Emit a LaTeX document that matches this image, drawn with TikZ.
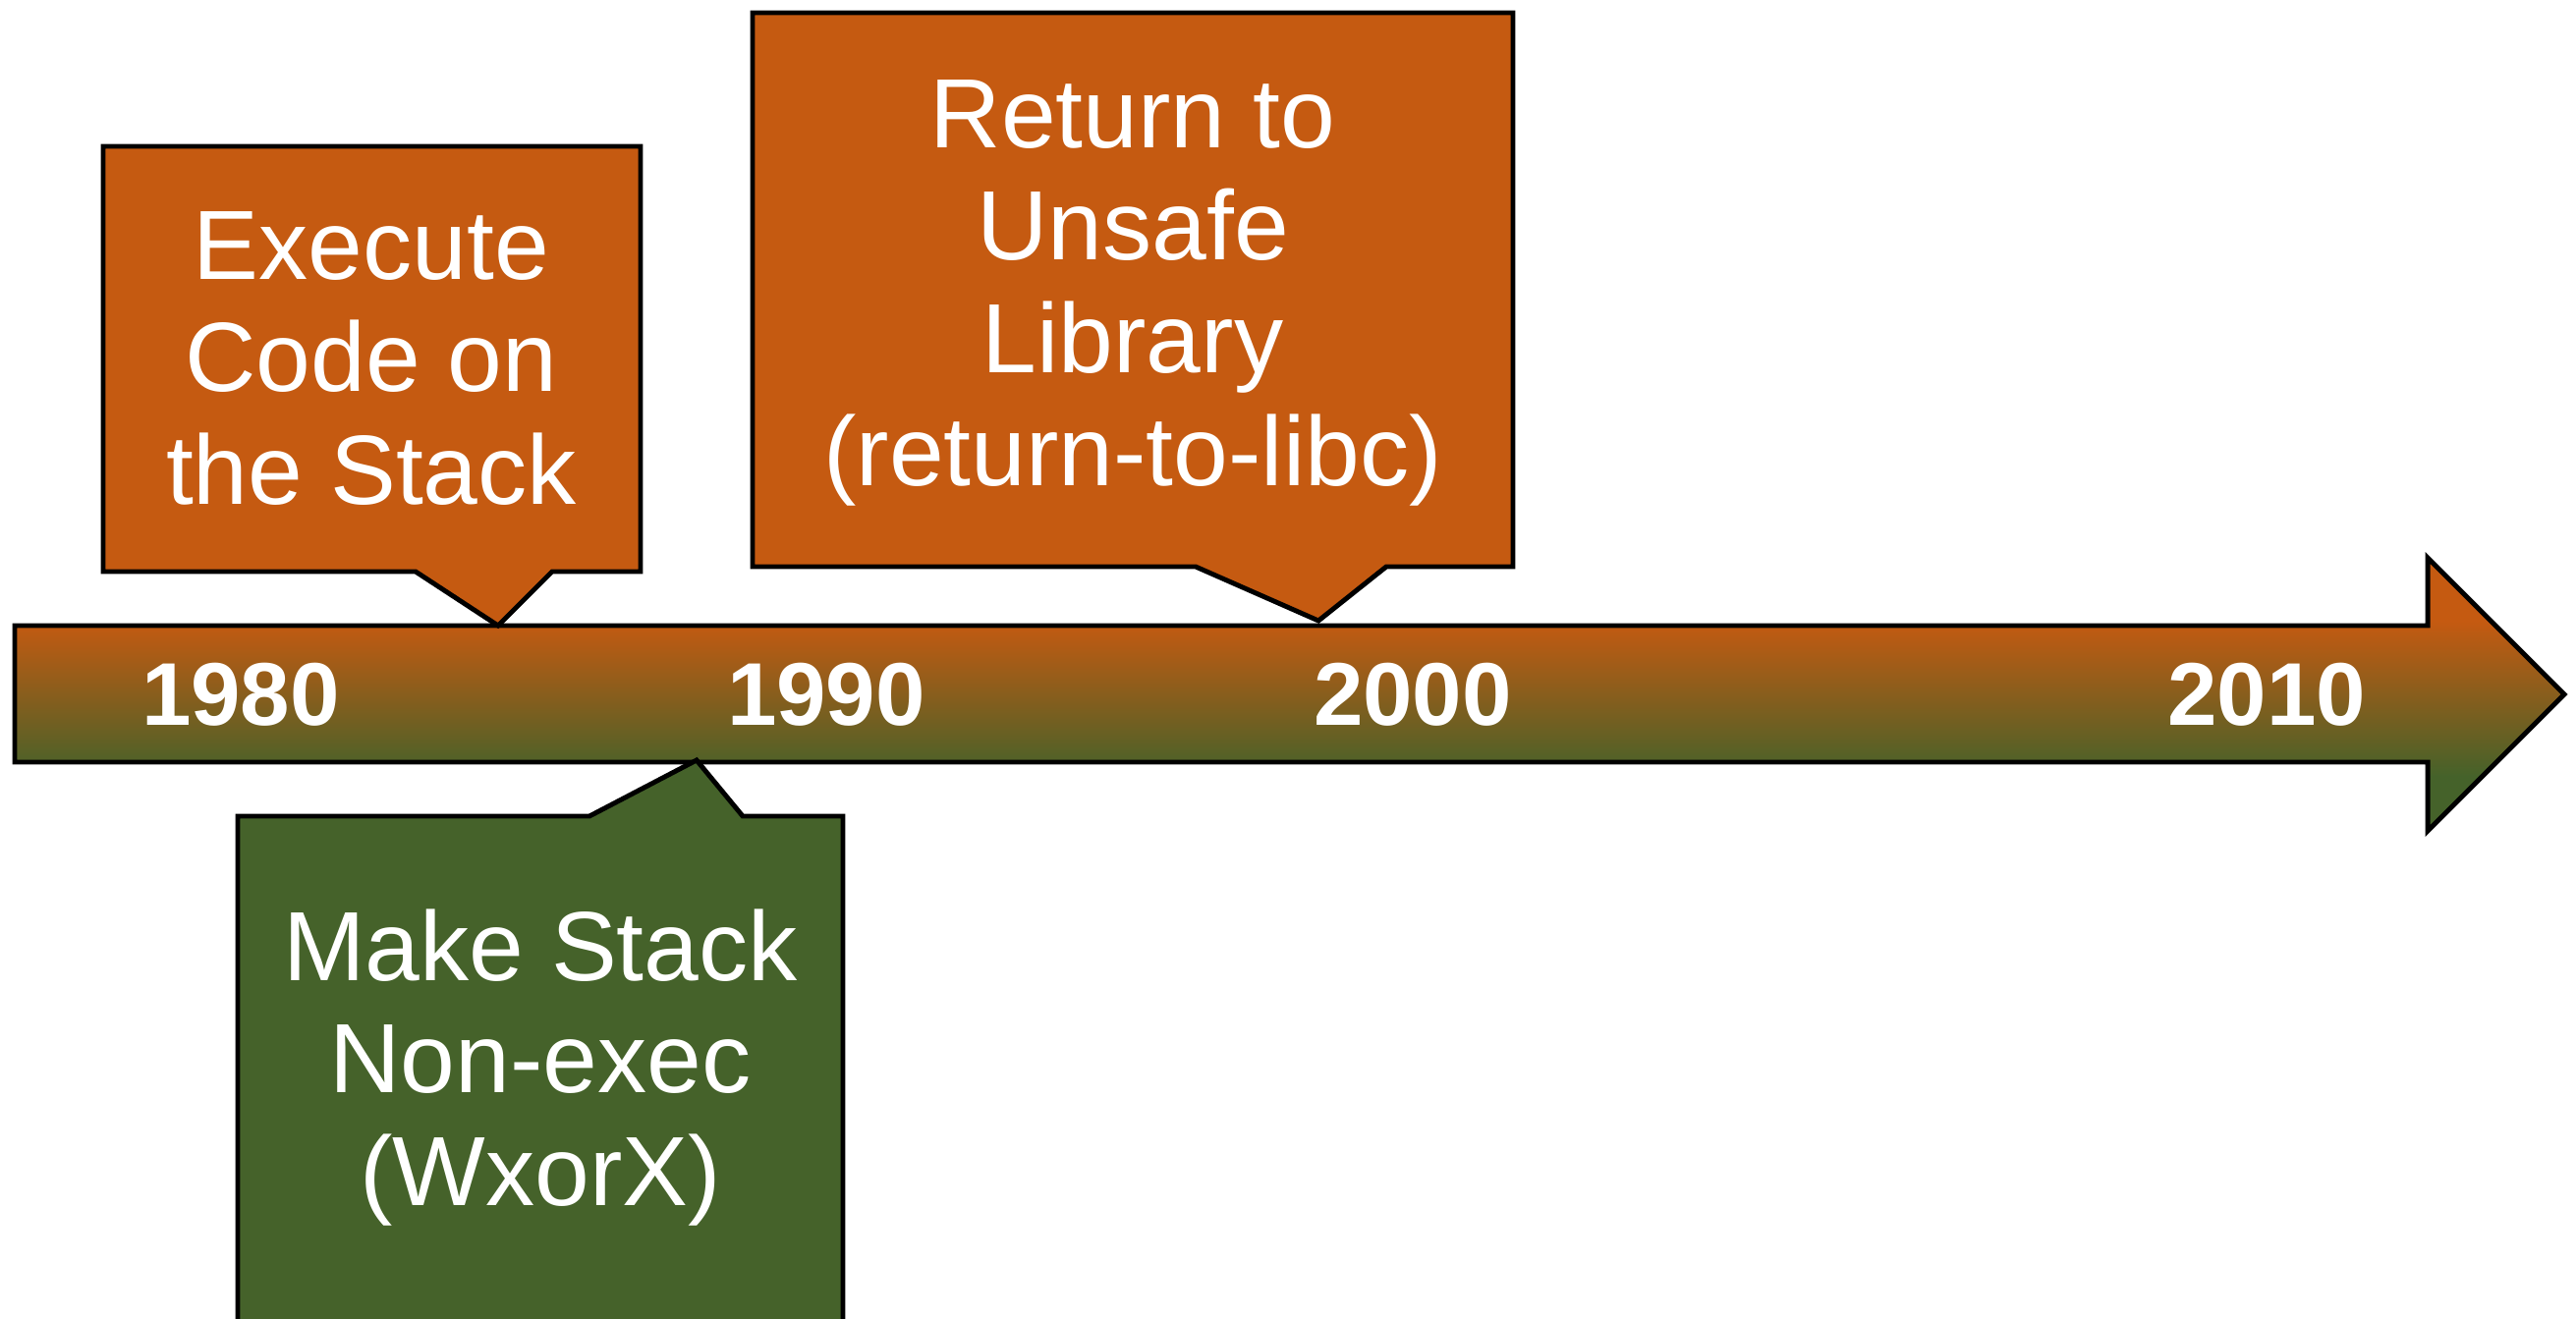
\documentclass[tikz,border=0pt]{standalone}
\usepackage{fontspec}
\setmainfont{Liberation Sans}
\definecolor{rustorange}{HTML}{C55A11}
\definecolor{mossgreen}{HTML}{45622A}
% orange on top, green at the bottom, blend only across the arrow body
\pgfdeclareverticalshading{timeline}{100bp}{color(0bp)=(mossgreen); color(35bp)=(mossgreen); color(63.5bp)=(rustorange); color(100bp)=(rustorange)}

\begin{document}
\begin{tikzpicture}[x=0.01cm, y=-0.01cm]
    % Define styles for callouts and labels
    \tikzstyle{orangebox} = [fill=rustorange, draw=black, line width=1.4pt]
    \tikzstyle{greenbox} = [fill=mossgreen, draw=black, line width=1.4pt]
    \tikzstyle{calloutText} = [text=white, align=center, inner sep=0pt, font=\fontsize{28.5}{32.6}\selectfont]
    \tikzstyle{yearLabel} = [text=white, inner sep=0pt, font=\fontsize{25.8}{30}\selectfont\bfseries]
    \useasboundingbox (0,0) rectangle (2622,1343);
    % Timeline arrow
    \draw [line width=1.4pt, shade, shading=timeline]
        (15,637) -- (2471,637) -- (2471,568) -- (2610,707) -- (2471,846) -- (2471,776) -- (15,776) -- cycle;
    % Years
    \node (y1980) [yearLabel] at (245,707) {1980};
    \node (y1990) [yearLabel] at (841,707) {1990};
    \node (y2000) [yearLabel] at (1438,707) {2000};
    \node (y2010) [yearLabel] at (2307,707) {2010};
    % Callouts above the arrow
    \draw [orangebox] (105,149) -- (652,149) -- (652,582) -- (562,582) -- (507,637) -- (423,582) -- (105,582) -- cycle;
    \node (execstack) [calloutText] at (378,365) {Execute\\Code on\\the Stack};
    \draw [orangebox] (766,13) -- (1540,13) -- (1540,577) -- (1411,577) -- (1342,632) -- (1217,577) -- (766,577) -- cycle;
    \node (retlibc) [calloutText] at (1153,298) {Return to\\Unsafe\\Library\\(return-to-libc)};
    % Callout below the arrow
    \draw [greenbox] (242,831) -- (600,831) -- (709,774) -- (756,831) -- (858,831) -- (858,1360) -- (242,1360) -- cycle;
    \node (nonexec) [calloutText] at (550,1087) {Make Stack\\Non-exec\\(WxorX)};
\end{tikzpicture}
\end{document}
